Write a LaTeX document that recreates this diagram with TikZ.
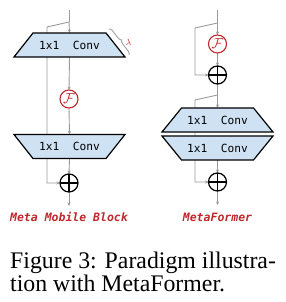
\documentclass[tikz,border=0pt]{standalone}
\usepackage{fontspec}
\setmainfont{Liberation Serif}
\newfontfamily\monofont{DejaVu Sans Mono}
\usetikzlibrary{arrows.meta,decorations.pathreplacing}
\pgfdeclarelayer{bg}
\pgfdeclarelayer{mid}
\pgfsetlayers{bg,mid,main}
\definecolor{convblue}{HTML}{CFE2F3}
\definecolor{linegray}{HTML}{9A9A9A}
\definecolor{darkred}{HTML}{C0282D}
\tikzset{
  conn/.style={draw=linegray, line width=0.9pt},
  arr/.style={conn, -{Stealth[length=3.5pt,width=3pt]}},
  convtext/.style={minimum width=111pt, minimum height=24pt, inner sep=0pt, outer sep=0pt,
    font=\monofont\fontsize{11.2}{12}\selectfont},
  trapshape/.style={draw=black, fill=convblue, line width=1.2pt, line join=miter},
  fnode/.style={circle, draw=darkred, fill=white, line width=1.1pt, minimum size=18pt,
    inner sep=0pt, outer sep=0pt, text=darkred, font=\fontsize{14}{14}\selectfont},
  addnode/.style={circle, draw=black, fill=white, line width=1.2pt, minimum size=18pt, inner sep=0pt, outer sep=0pt,
    path picture={\draw[black, line width=1.2pt] (path picture bounding box.north) -- (path picture bounding box.south)
      (path picture bounding box.west) -- (path picture bounding box.east);}},
  blocklabel/.style={text=darkred, font=\monofont\bfseries\itshape\fontsize{11.5}{12}\selectfont},
  captext/.style={anchor=base west, inner sep=0pt, font=\fontsize{23.8}{26}\selectfont},
}
\begin{document}
\begin{tikzpicture}[x=1pt,y=1pt]
\useasboundingbox (0,0) rectangle (285,302);
% ---------- left: Meta Mobile Block ----------
\coordinate (Ltop) at (69,292);
\coordinate (Lbr) at (69,280);
\coordinate (Lsk) at (47,275);
\coordinate (Lskb) at (47,119);
\coordinate (Lout) at (69,96);
\node[convtext] (Lc1) at (69.5,257) {1x1\ \ Conv};
\node[fnode] (LF) at (69,203) {$\mathcal{F}$};
\node[convtext] (Lc2) at (69.5,155.5) {1x1\ \ Conv};
\node[addnode] (Ladd) at (69,119) {};
\node[text=darkred, font=\fontsize{9}{9}\selectfont, inner sep=0pt] (lam) at (128.5,260) {$\lambda$};
\node[blocklabel] (Llab) at (69,85) {Meta Mobile Block};
% ---------- right: MetaFormer ----------
\coordinate (Rtop) at (217.5,292);
\coordinate (Rbr1) at (217.5,279);
\coordinate (Rsk1) at (195,274);
\coordinate (Rsk1b) at (195,227);
\coordinate (Rbr2) at (217.5,207);
\coordinate (Rsk2) at (195,202);
\coordinate (Rsk2b) at (195,120);
\coordinate (Rout) at (217.5,97);
\node[fnode] (RF) at (217.5,258) {$\mathcal{F}$};
\node[addnode] (Radd1) at (217.5,227) {};
\node[convtext] (Rc1) at (217.5,182) {1x1\ \ Conv};
\node[convtext] (Rc2) at (217.5,154) {1x1\ \ Conv};
\node[addnode] (Radd2) at (217.5,120) {};
\node[blocklabel] (Rlab) at (217.5,85) {MetaFormer};
% ---------- caption ----------
\node[captext] (cap1) at (10,33.7) {Figure 3: Paradigm illustra-};
\node[captext] (cap2) at (10,10.3) {tion with MetaFormer.};
% ---------- trapezoid bodies ----------
\begin{pgfonlayer}{mid}
\path[trapshape] ([xshift=19pt]Lc1.north west) -- ([xshift=-19pt]Lc1.north east) -- (Lc1.south east) -- (Lc1.south west) -- cycle;
\path[trapshape] (Lc2.north west) -- (Lc2.north east) -- ([xshift=-19pt]Lc2.south east) -- ([xshift=19pt]Lc2.south west) -- cycle;
\path[trapshape] ([xshift=19.5pt]Rc1.north west) -- ([xshift=-19.5pt]Rc1.north east) -- (Rc1.south east) -- (Rc1.south west) -- cycle;
\path[trapshape] (Rc2.north west) -- (Rc2.north east) -- ([xshift=-19.5pt]Rc2.south east) -- ([xshift=19.5pt]Rc2.south west) -- cycle;
\draw[decorate, decoration={brace, amplitude=3.5pt}, draw=linegray, line width=0.8pt] (109,273) -- (129,247);
\end{pgfonlayer}
% ---------- connectors ----------
\begin{pgfonlayer}{bg}
\draw[conn] (Ltop) -- (Lbr);
\draw[arr] (Lbr) -- (Lc1.north);
\draw[arr] (Lc1.south) -- (LF.north);
\draw[arr] (LF.south) -- (Lc2.north);
\draw[arr] (Lc2.south) -- (Ladd.north);
\draw[arr] (Lbr) -- (Lsk) -- (Lskb) -- (Ladd.west);
\draw[arr] (Ladd.south) -- (Lout);
\draw[conn] (Rtop) -- (Rbr1);
\draw[arr] (Rbr1) -- (RF.north);
\draw[arr] (RF.south) -- (Radd1.north);
\draw[arr] (Rbr1) -- (Rsk1) -- (Rsk1b) -- (Radd1.west);
\draw[conn] (Radd1.south) -- (Rbr2);
\draw[arr] (Rbr2) -- (Rc1.north);
\draw[arr] (Rc2.south) -- (Radd2.north);
\draw[arr] (Rbr2) -- (Rsk2) -- (Rsk2b) -- (Radd2.west);
\draw[arr] (Radd2.south) -- (Rout);
\end{pgfonlayer}
\end{tikzpicture}
\end{document}
